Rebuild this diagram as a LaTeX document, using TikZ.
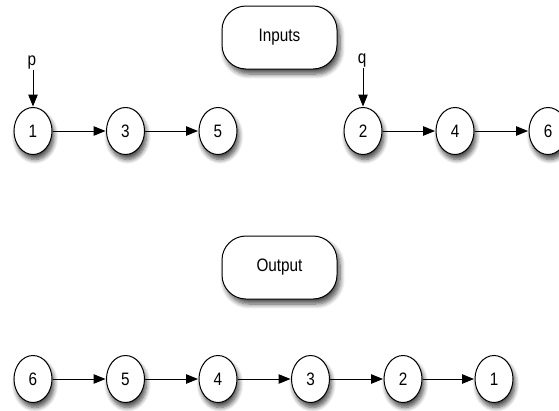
\documentclass[tikz,border=0pt]{standalone}
\usepackage{fontspec}
\setmainfont{Liberation Sans}
\newfontfamily\narrowfont[FakeStretch=0.85]{Liberation Sans}
\usetikzlibrary{shapes.geometric,shadows.blur,arrows.meta}
\tikzset{
  lnode/.style={ellipse, draw, line width=1pt, fill=white, minimum width=38pt, minimum height=47pt, inner sep=0pt,
    font=\narrowfont\fontsize{18}{20}\selectfont,
    blur shadow={shadow xshift=2pt, shadow yshift=-5pt, shadow blur steps=7, shadow blur radius=4.5pt, shadow opacity=70}},
  titlebox/.style={rectangle, draw, line width=1pt, fill=white, rounded corners=24pt, minimum width=115pt, minimum height=63pt, inner sep=0pt,
    font=\narrowfont\fontsize{18}{20}\selectfont,
    blur shadow={shadow xshift=3pt, shadow yshift=-5pt, shadow blur steps=7, shadow blur radius=5pt, shadow opacity=70}},
  ptr/.style={font=\narrowfont\fontsize{18}{20}\selectfont, inner sep=1pt},
  link/.style={line width=1pt, -{Triangle[length=12pt,width=9.5pt]}, shorten >=0.5pt}
}
\begin{document}
\begin{tikzpicture}[x=1pt,y=-1pt]
\useasboundingbox (0,0) rectangle (559,410);
\node[titlebox] (inputs) at (279.5,37.5) {Inputs};
\node[titlebox] (output) at (279.5,267.5) {Output};
% top left list
\node[lnode] (a1) at (33,131) {1};
\node[lnode] (a3) at (125.5,131) {3};
\node[lnode] (a5) at (218,131) {5};
% top right list
\node[lnode] (b2) at (363,131) {2};
\node[lnode] (b4) at (455,131) {4};
\node[lnode] (b6) at (548,131) {6};
% pointers
\node[ptr, anchor=base] (p) at (32,65) {p};
\node[ptr, anchor=base] (q) at (362,63) {q};
\draw[link] (p.south -| a1.north) -- (a1.north);
\draw[link] (q.south -| b2.north) -- (b2.north);
\draw[link] (a1) -- (a3);
\draw[link] (a3) -- (a5);
\draw[link] (b2) -- (b4);
\draw[link] (b4) -- (b6);
% output list
\node[lnode] (c6) at (33,379) {6};
\node[lnode] (c5) at (125.5,379) {5};
\node[lnode] (c4) at (218,379) {4};
\node[lnode] (c3) at (310.5,379) {3};
\node[lnode] (c2) at (403,379) {2};
\node[lnode] (c1) at (494,379) {1};
\draw[link] (c6) -- (c5);
\draw[link] (c5) -- (c4);
\draw[link] (c4) -- (c3);
\draw[link] (c3) -- (c2);
\draw[link] (c2) -- (c1);
\end{tikzpicture}
\end{document}
